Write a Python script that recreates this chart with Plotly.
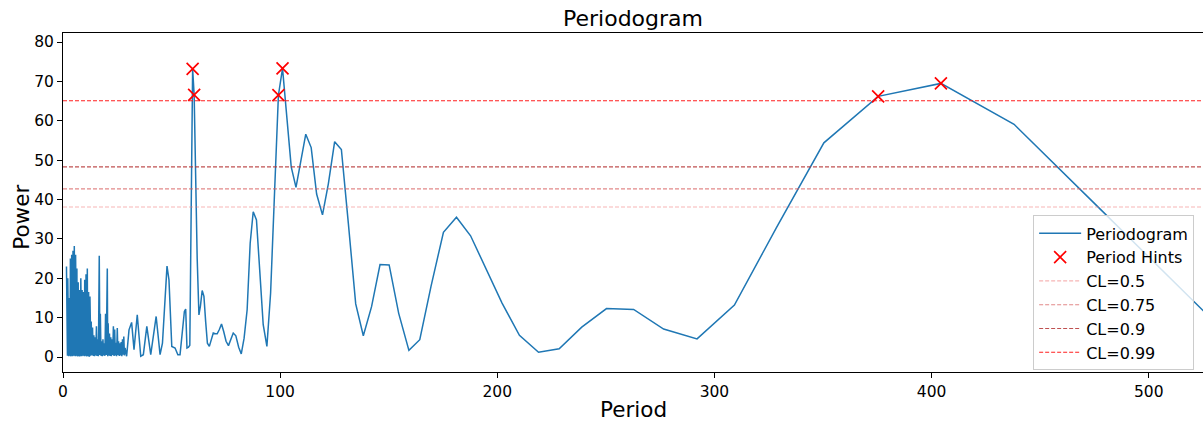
import plotly.graph_objects as go

# ---- Periodogram data (period, power) ----
dense_period = [1.60, 1.75, 1.90, 2.05, 2.20, 2.35, 2.50, 2.65, 2.80, 2.95, 3.10, 3.25, 3.40, 3.55,
                3.70, 3.85, 4.00, 4.15, 4.30, 4.45, 4.60, 4.75, 4.90, 5.05, 5.20, 5.35, 5.50, 5.65,
                5.80, 5.95, 6.10, 6.25, 6.40, 6.55, 6.70, 6.85, 7.00, 7.15, 7.30, 7.45, 7.60, 7.75,
                7.90, 8.05, 8.20, 8.35, 8.50, 8.65, 8.80, 8.95, 9.10, 9.25, 9.40, 9.55, 9.70, 9.85,
                10.00, 10.15, 10.30, 10.45, 10.60, 10.75, 10.90, 11.05, 11.20, 11.35, 11.50, 11.65,
                11.80, 11.95, 12.10, 12.25, 12.40, 12.55, 12.70, 12.85,
                13.0, 13.3, 13.6, 13.9, 14.2, 14.5, 14.8, 15.1,
                15.4, 15.7, 16.0, 16.3, 16.7, 17.0, 17.2, 17.5, 17.8, 18.1, 18.4, 18.7, 19.0, 19.3,
                19.6, 19.9, 20.4, 20.6, 20.8, 21.1, 21.4, 21.7, 22.0, 22.3, 22.6, 22.9, 23.2, 23.5,
                23.8, 24.1, 24.4, 24.7, 25.0, 25.3, 25.6, 25.9, 26.2, 26.5, 26.8, 27.1, 27.4, 27.7,
                28.0, 28.3, 28.6]
dense_power = [23, 0.4, 12, 0.3, 20, 0.5, 10, 0.2, 15, 0.4, 13, 0.3, 25, 0.2,
               14, 0.5, 26, 0.3, 16, 0.2, 27, 0.4, 15, 0.3, 28.2, 0.5, 17, 0.2,
               26, 0.4, 14, 0.3, 22.5, 0.2, 13, 0.5, 19, 0.3, 12, 0.4, 17, 0.2,
               11, 0.5, 20, 0.3, 12, 0.2, 17, 0.4, 11, 0.3, 16.5, 0.5, 12, 0.2,
               19.6, 0.4, 13, 0.3, 21, 0.2, 12, 0.5, 22.5, 0.3, 10, 0.4,
               16.5, 0.2, 9, 0.3, 15.4, 0.4, 6, 0.3,
               9, 0.5, 7.5, 0.3, 5.5, 0.2, 5, 0.4,
               7.8, 0.3, 4.5, 0.2, 25.7, 0.5, 11, 0.3, 4, 0.2, 4.5, 0.4, 3.5, 0.3,
               11, 0.5, 22.5, 0.2, 8.6, 0.4, 6, 0.3, 5, 0.2, 4.5, 0.5, 7.8, 0.3,
               7, 0.4, 3.6, 0.2, 7.4, 0.5, 4, 0.3, 3.5, 0.4, 3.8, 0.2, 4.5, 0.6,
               5.2, 0.4, 2.3]

sparse_period = [29.3, 30.4, 31.6, 32.7, 34.2, 35.8, 37.0, 38.6, 40.4, 42.9, 44.7, 45.8, 47.9,
                 48.8, 50.1, 51.6, 52.9, 53.9, 55.9, 56.5, 57.1, 57.8, 58.4, 59.1, 59.7, 60.4,
                 61.1, 61.8, 62.6, 63.3, 64.1, 64.9, 65.7, 66.5, 67.4, 68.3, 69.2, 70.1, 71.0,
                 72.0, 73.0, 74.0, 75.1, 76.2, 77.3, 78.4, 79.6, 80.9, 82.1, 83.4, 84.8, 86.2,
                 87.6, 89.1, 90.6, 92.2, 93.9, 95.6, 97.3, 99.2, 101.1, 103.1, 105.1, 107.3,
                 109.5, 111.8, 114.3, 116.8, 119.5, 122.2, 125.1, 128.2, 131.4, 134.8, 138.3,
                 142.1, 146.0, 150.2, 154.6, 159.3, 164.3, 169.5, 175.2, 181.2, 187.7, 194.7,
                 202.2, 210.2, 219.0, 228.5, 238.9, 250.3, 262.8, 276.6, 292.0, 309.2, 328.5,
                 350.4, 375.4, 404.3, 438.0, 477.8, 525.6]
sparse_power = [0.2, 6.9, 8.8, 1.9, 10.7, 0.2, 0.6, 7.8, 0.6, 10.3, 0.6, 3.5, 23.1,
                19.6, 2.7, 2.3, 0.6, 0.6, 11.6, 12.2, 2.3, 2.5, 3.0, 40.0, 73.2, 66.6,
                45.0, 25.0, 10.7, 13.0, 16.9, 15.4, 9.0, 3.5, 2.7, 4.5, 6.1, 5.9, 5.9,
                7.0, 8.4, 6.5, 4.0, 2.9, 4.5, 6.1, 5.4, 2.5, 0.8, 4.8, 12.0, 28.9,
                36.9, 34.8, 22.0, 8.2, 2.7, 16.2, 40.0, 66.5, 73.3, 61.8, 48.3, 43.1,
                50.0, 56.6, 53.2, 41.4, 36.1, 44.0, 54.7, 52.7, 34.0, 13.5, 5.4,
                12.8, 23.5, 23.4, 11.1, 1.7, 4.4, 18.0, 31.7, 35.5, 30.8, 22.5,
                13.7, 5.5, 1.2, 2.1, 7.6, 12.3, 12.1, 7.1, 4.6, 13.2, 32.8,
                54.4, 66.2, 69.5, 59.1, 37.5, 11.5]

hint_period = [59.7, 60.4, 99.2, 101.1, 375.4, 404.3]
hint_power = [73.2, 66.6, 66.5, 73.3, 66.2, 69.5]

cl_labels = ["CL=0.5", "CL=0.75", "CL=0.9", "CL=0.99"]
cl_values = [38.1, 42.7, 48.3, 65.1]
cl_colors = ["rgba(238,120,120,0.55)", "rgba(214,90,90,0.72)", "rgba(180,50,50,0.85)", "rgba(255,20,20,0.95)"]

x_range = [0, 525]
y_range = [-3.8, 82.3]

FONT = "DejaVu Sans"

fig = go.Figure()
fig.add_trace(go.Scatter(
    x=dense_period + sparse_period, y=dense_power + sparse_power,
    mode="lines", name="Periodogram",
    line=dict(color="#1f77b4", width=1.5),
))
fig.add_trace(go.Scatter(
    x=hint_period, y=hint_power, mode="markers", name="Period Hints",
    marker=dict(symbol="x-thin", size=12, line=dict(color="red", width=1.7), color="red"),
))

for lab, val, col in zip(cl_labels, cl_values, cl_colors):
    fig.add_shape(type="line", xref="x domain", x0=0, x1=1, yref="y", y0=val, y1=val,
                  line=dict(color=col, width=1.1, dash="4px,2px"),
                  showlegend=True, name=lab, layer="above")

W, H = 1203, 425
ml, mr, mt, mb = 63, 0, 33, 53

fig.update_layout(
    width=W, height=H,
    margin=dict(l=ml, r=mr, t=mt, b=mb),
    paper_bgcolor="white", plot_bgcolor="white",
    font=dict(family=FONT, color="black", size=15.5),
    title=dict(text="Periodogram", x=0.5, xanchor="center", xref="paper",
               yref="container", y=1 - 18 / H, yanchor="middle",
               font=dict(family=FONT, size=22, color="black")),
    showlegend=True,
    legend=dict(x=0.851, y=0.462, xanchor="left", yanchor="top",
                bgcolor="rgba(255,255,255,0.8)", bordercolor="#cccccc", borderwidth=1,
                font=dict(family=FONT, size=16, color="black"),
                itemwidth=42),
    xaxis=dict(range=x_range, showgrid=False, zeroline=False, showline=True, linecolor="black",
               linewidth=1, mirror=True, ticks="outside", ticklen=5, tickcolor="black",
               tickvals=[0, 100, 200, 300, 400, 500], tickfont=dict(size=15.5)),
    yaxis=dict(range=y_range, showgrid=False, zeroline=False, showline=True, linecolor="black",
               linewidth=1, mirror=True, ticks="outside", ticklen=5, tickcolor="black",
               tickvals=[0, 10, 20, 30, 40, 50, 60, 70, 80], tickfont=dict(size=15.5)),
    annotations=[
        dict(text="Period", xref="paper", yref="paper", x=0.5, y=(372.3 - 410) / 339.7,
             xanchor="center", yanchor="middle", showarrow=False,
             font=dict(family=FONT, size=21.5, color="black")),
        dict(text="Power", xref="paper", yref="paper", x=(22 - 63) / 1140, y=0.455,
             xanchor="center", yanchor="middle", textangle=-90, showarrow=False,
             font=dict(family=FONT, size=21.5, color="black")),
    ],
)

fig.write_html("out.html")
